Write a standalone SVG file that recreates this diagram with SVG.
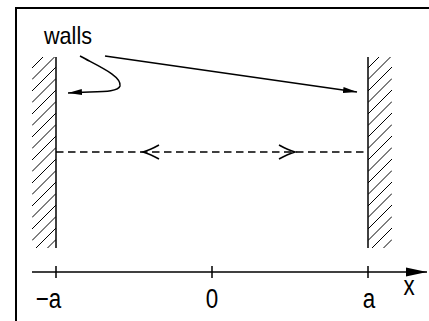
<svg xmlns="http://www.w3.org/2000/svg" width="429" height="321" viewBox="0 0 429 321">
<style>
text{font-family:"Liberation Sans",Arial,sans-serif;fill:#000}
.lbl{font-size:28px}
.ln{stroke:#000;fill:none;stroke-width:1.5}
.hatch{stroke:#000;fill:none;stroke-width:1}
.dash{stroke:#000;fill:none;stroke-width:1.3;stroke-dasharray:7.5 4.5}
</style>
<defs>
<clipPath id="cl"><rect x="32" y="57" width="24" height="191"/></clipPath>
<clipPath id="cr"><rect x="368" y="57" width="24" height="191"/></clipPath>
<path id="hl" d="M0,68 l24,-24 M0,79.5 l24,-24 M0,91 l24,-24 M0,102.5 l24,-24 M0,114 l24,-24 M0,125.5 l24,-24 M0,137 l24,-24 M0,148.5 l24,-24 M0,160 l24,-24 M0,171.5 l24,-24 M0,183 l24,-24 M0,194.5 l24,-24 M0,206 l24,-24 M0,217.5 l24,-24 M0,229 l24,-24 M0,240.5 l24,-24 M0,252 l24,-24 M0,263.5 l24,-24 M0,275 l24,-24"/>
<marker id="fa" viewBox="0 0 14 8" refX="14" refY="4" markerWidth="14" markerHeight="8" markerUnits="userSpaceOnUse" orient="auto">
<path d="M0,1 L14,4 L0,7 Z" fill="#000"/>
</marker>
<marker id="ax" viewBox="0 0 21 10" refX="21" refY="5" markerWidth="21" markerHeight="10" markerUnits="userSpaceOnUse" orient="auto">
<path d="M0,0.5 L21,5 L0,9.5 Z" fill="#000"/>
</marker>
</defs>
<g id="frame">
<path d="M16,321 V8 H429" stroke="#000" stroke-width="2" fill="none"/>
</g>
<g id="left-wall">
<g clip-path="url(#cl)"><use href="#hl" x="32" class="hatch"/></g>
<line class="ln" x1="56" y1="57" x2="56" y2="248"/>
</g>
<g id="right-wall">
<g clip-path="url(#cr)"><use href="#hl" x="368" class="hatch"/></g>
<line class="ln" x1="368" y1="57" x2="368" y2="248"/>
</g>
<g id="label-walls">
<text transform="translate(44,44) scale(0.9,1)" font-size="24">walls</text>
</g>
<g id="axis">
<line class="ln" x1="32" y1="272" x2="427" y2="272" marker-end="url(#ax)"/>
<path class="ln" d="M56,266 V278 M212,266 V278 M368,266 V278"/>
<text class="lbl" transform="translate(48.5,308) scale(0.8,1)" text-anchor="middle">−a</text>
<text class="lbl" transform="translate(212,308) scale(0.8,1)" text-anchor="middle">0</text>
<text class="lbl" transform="translate(369,308) scale(0.8,1)" text-anchor="middle">a</text>
<text class="lbl" transform="translate(409,295) scale(0.8,1)" text-anchor="middle">x</text>
</g>
<g id="connectors">
<line class="dash" x1="56" y1="152" x2="368" y2="152"/>
<path class="ln" d="M159,145 Q150,150 143,152 Q150,154 159,159"/>
<path class="ln" d="M279,145 Q288,150 295,152 Q288,154 279,159"/>
<line class="ln" x1="105" y1="56" x2="357" y2="92" marker-end="url(#fa)"/>
<path class="ln" d="M80,56 C98,66 122,76 120,86 C118,93 96,91 68,93" marker-end="url(#fa)"/>
</g>
</svg>
